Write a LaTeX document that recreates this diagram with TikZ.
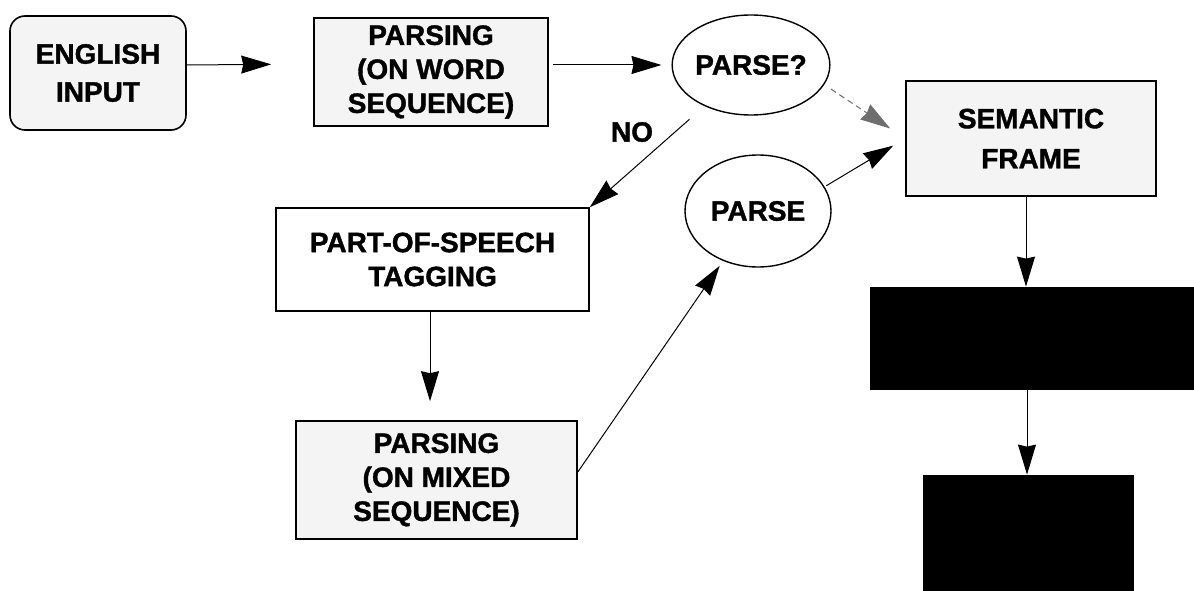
\documentclass[tikz,border=0pt]{standalone}
\usepackage{fontspec}
\setmainfont{Liberation Sans}[BoldFeatures={FakeBold=1.3}]
\usepackage{tikz}
\usetikzlibrary{arrows.meta,positioning,shapes.geometric}
\usepackage{xcolor}
\definecolor{stipple}{RGB}{244,244,244}
\definecolor{dotline}{RGB}{110,110,110}

\begin{document}
\begin{tikzpicture}[x=25pt, y=25pt,
    every node/.style={font=\fontsize{14}{17}\selectfont\bfseries, align=center},
    box/.style={draw, line width=0.8pt, inner sep=0pt},
    shaded/.style={box, fill=stipple},
    oval/.style={draw, line width=0.7pt, ellipse, inner sep=0pt, minimum width=73pt},
    solid box/.style={draw, fill=black, inner sep=0pt},
    arr/.style={-{Stealth[length=15pt, width=9pt, inset=1pt]}, line width=0.5pt}]
    \useasboundingbox (0,0) rectangle (23.88,11.8);
    % Input and first pass over the words
    \node[shaded, rounded corners=7.5pt, minimum width=88pt, minimum height=57pt] (english)
      at (1.96,10.34) {ENGLISH\\[2pt]INPUT};
    \node[shaded, minimum width=117pt, minimum height=54pt] (wordparse)
      at (8.62,10.36) {PARSING\\(ON WORD\\SEQUENCE)};
    \node[oval, minimum height=50pt] (parseq) at (15.02,10.50) {PARSE?};
    % Fallback through tagging
    \node[box, fill=white, minimum width=156.5pt, minimum height=51.5pt] (pos)
      at (8.65,6.61) {PART-OF-SPEECH\\TAGGING};
    \node[shaded, minimum width=140.5pt, minimum height=59pt] (mixedparse)
      at (8.73,2.20) {PARSING\\(ON MIXED\\SEQUENCE)};
    \node[oval, minimum height=56pt] (parse) at (15.16,7.58) {PARSE};
    \node (no) at (12.64,9.16) {NO};
    % Output column
    \node[shaded, minimum width=125pt, minimum height=57.5pt] (semantic)
      at (20.62,9.03) {SEMANTIC\\[3pt]FRAME};
    \node[solid box, minimum width=162pt, minimum height=51pt] (outA) at (20.64,5.04) {};
    \node[solid box, minimum width=105pt, minimum height=57.5pt] (outB) at (20.56,1.15) {};
    % Arrows
    \draw[arr, shorten >=21pt] ([yshift=4pt]english.east) -- ([yshift=4pt]wordparse.west);
    \draw[arr, shorten <=2pt, shorten >=5pt] (wordparse.east |- parseq.west) -- (parseq.west);
    \draw[arr, shorten <=10pt] (parseq) -- (pos.north east);
    \draw[arr, shorten >=9.5pt] (pos.south -| 8.6,0) -- (mixedparse.north -| 8.6,0);
    \draw[arr, shorten >=3pt] ([yshift=4pt]mixedparse.east) -- (parse.235);
    \draw[arr, densely dashed, dotline, shorten <=4pt, shorten >=9pt] (parseq.-15) -- (semantic.west);
    \draw[arr, shorten <=1pt, shorten >=7pt] (parse.20) -- (semantic.west);
    \draw[arr] (semantic.south -| 20.52,0) -- (outA.north -| 20.52,0);
    \draw[arr] (outA.south -| 20.54,0) -- (outB.north -| 20.54,0);
\end{tikzpicture}
\end{document}
